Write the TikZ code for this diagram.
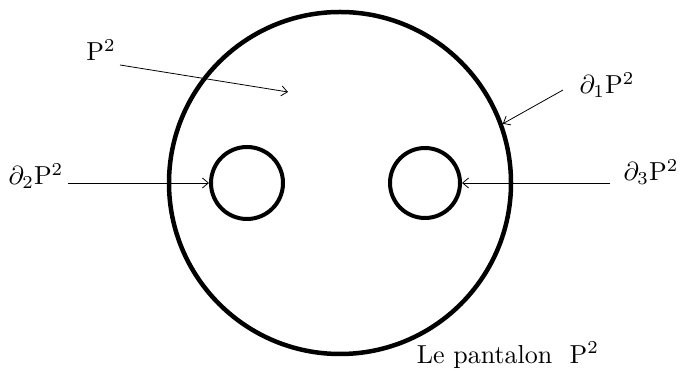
\documentclass[tikz,border=0pt]{standalone}
\usepackage{graphicx}
\usetikzlibrary{arrows.meta}
\newcommand{\bigtxt}[1]{\scalebox{2.6}{#1}}
\begin{document}
\begin{tikzpicture}[x=1pt,y=1pt,
  bd/.style={draw, circle, line width=4.5pt, inner sep=0pt},
  hl/.style={draw, circle, line width=4pt, inner sep=0pt},
  lbl/.style={inner sep=0pt},
  ptr/.style={line width=0.8pt, -{Straight Barb[length=6pt,width=10pt]}}]
\useasboundingbox (0,0) rectangle (680,371);
\node[bd, minimum size=342pt] (big) at (340,188) {};
\node[hl, minimum size=72pt] (hole2) at (247,188) {};
\node[hl, minimum size=70pt] (hole3) at (425,188) {};
\node[lbl] (lP) at (101,321) {\bigtxt{$\mathrm{P}^2$}};
\node[lbl] (l1) at (607,286) {\bigtxt{$\partial_1\mathrm{P}^2$}};
\node[lbl] (l2) at (36,195) {\bigtxt{$\partial_2\mathrm{P}^2$}};
\node[lbl] (l3) at (651,199) {\bigtxt{$\partial_3\mathrm{P}^2$}};
\node[lbl] (title) at (508,16) {\bigtxt{Le pantalon\ \ $\mathrm{P}^2$}};
\coordinate (sP) at (120,306);
\coordinate (eP) at (288,279);
\coordinate (s1) at (563,281);
\coordinate (s2) at (68,188);
\coordinate (s3) at (610,188);
\draw[ptr] (sP) -- (eP);
\draw[ptr] (s1) -- (big.20);
\draw[ptr] (s2) -- (hole2.west);
\draw[ptr] (s3) -- (hole3.east);
\end{tikzpicture}
\end{document}
